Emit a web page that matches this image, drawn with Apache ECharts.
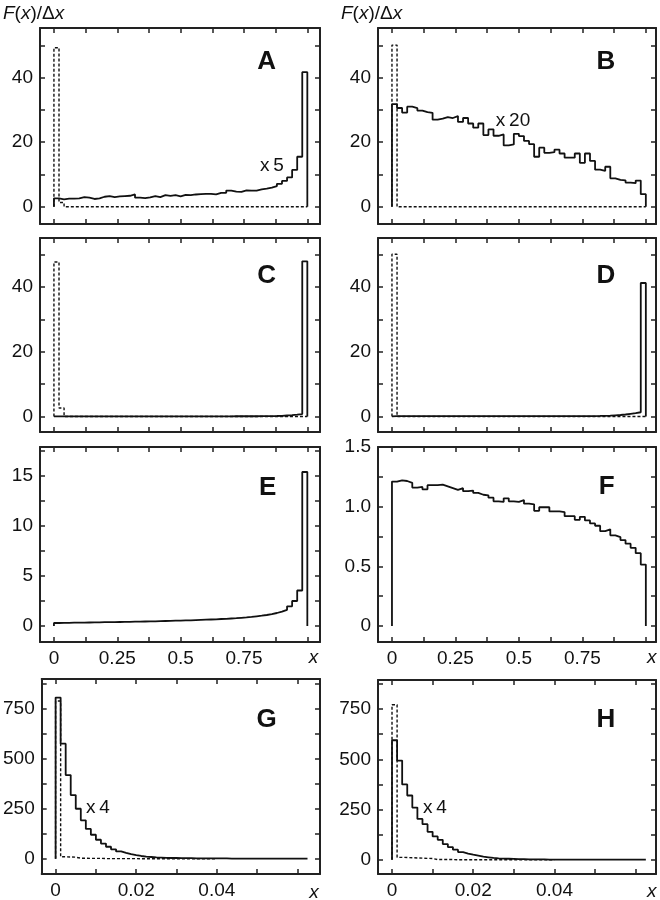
<!DOCTYPE html>
<html><head><meta charset="utf-8">
<script src="https://cdn.jsdelivr.net/npm/echarts@6/dist/echarts.min.js"></script>
<style>html,body{margin:0;padding:0;background:#fff}#c{width:660px;height:900px}</style>
</head><body><div id="c"></div>
<script>
// ---------------- DATA (F(x)/Δx per bin, 50 bins each) ----------------
const binWidthUnit = 0.02;      // panels A-F : x in [0,1]
const binWidthSmall = 0.00125;  // panels G-H : x in [0,0.0625]

const binsA_solid = [2.6,2.3,2.5,2.5,2.6,3.0,2.8,2.4,2.6,3.1, 3.3,3.0,3.2,3.3,3.4,3.8,2.8,2.7,2.9,3.3,
  3.0,3.6,3.4,3.6,3.2,3.7,3.6,3.8,3.9,4.0, 4.0,3.8,4.3,4.3,5.0,4.7,4.6,5.1,5.0,5.0,
  5.4,5.6,5.9,6.4,7.1,8.0,9.1,11.4,15.5,41.7];
const binsA_dotted = [49.3,1.3,0,0,0,0,0,0,0,0, 0,0,0,0,0,0,0,0,0,0, 0,0,0,0,0,0,0,0,0,0,
  0,0,0,0,0,0,0,0,0,0, 0,0,0,0,0,0,0,0,0,0];

const binsB_solid = [31.8,30.6,29.2,31.0,30.6,29.8,29.3,29.1,27.0,27.3, 27.8,27.5,28.1,26.3,27.5,25.8,24.5,25.8,22.2,24.0,
  22.0,22.4,19.0,19.3,22.6,21.9,20.4,19.4,15.5,18.3, 16.7,16.9,17.7,16.5,15.2,15.2,16.5,13.6,16.5,14.2,
  11.5,11.1,12.4,8.8,8.3,8.2,7.5,7.3,8.1,3.9];
const binsB_dotted = [50.1,0,0,0,0,0,0,0,0,0, 0,0,0,0,0,0,0,0,0,0, 0,0,0,0,0,0,0,0,0,0,
  0,0,0,0,0,0,0,0,0,0, 0,0,0,0,0,0,0,0,0,0];

const binsC_solid = [0.05,0.04,0.05,0.04,0.05,0.05,0.04,0.05,0.05,0.05, 0.05,0.05,0.05,0.05,0.05,0.05,0.05,0.05,0.05,0.05,
  0.05,0.05,0.05,0.05,0.05,0.05,0.05,0.05,0.05,0.05, 0.05,0.05,0.05,0.05,0.05,0.06,0.06,0.06,0.07,0.07,
  0.08,0.09,0.11,0.14,0.2,0.3,0.4,0.55,0.75,47.9];
const binsC_dotted = [47.7,2.6,0,0,0,0,0,0,0,0, 0,0,0,0,0,0,0,0,0,0, 0,0,0,0,0,0,0,0,0,0,
  0,0,0,0,0,0,0,0,0,0, 0,0,0,0,0,0,0,0,0,0];

const binsD_solid = [0.1,0.1,0.1,0.1,0.1,0.1,0.1,0.1,0.1,0.1, 0.1,0.1,0.1,0.1,0.1,0.1,0.1,0.1,0.1,0.1,
  0.1,0.1,0.1,0.1,0.1,0.1,0.1,0.1,0.1,0.1, 0.1,0.1,0.1,0.1,0.1,0.1,0.1,0.1,0.1,0.12,
  0.15,0.2,0.25,0.35,0.45,0.6,0.8,1.0,1.3,41.2];
const binsD_dotted = [50.1,0,0,0,0,0,0,0,0,0, 0,0,0,0,0,0,0,0,0,0, 0,0,0,0,0,0,0,0,0,0,
  0,0,0,0,0,0,0,0,0,0, 0,0,0,0,0,0,0,0,0,0];

const binsE_solid = [0.30,0.31,0.32,0.33,0.33,0.34,0.35,0.36,0.37,0.38, 0.38,0.39,0.40,0.41,0.42,0.43,0.44,0.45,0.46,0.47,
  0.49,0.50,0.51,0.53,0.54,0.56,0.57,0.59,0.61,0.63, 0.65,0.67,0.70,0.72,0.75,0.78,0.82,0.86,0.91,0.97,
  1.03,1.10,1.19,1.30,1.44,1.62,1.97,2.50,3.55,15.4];

const binsF_solid = [1.21,1.22,1.215,1.20,1.16,1.165,1.145,1.18,1.18,1.185, 1.17,1.155,1.14,1.155,1.13,1.135,1.115,1.10,1.095,1.075,
  1.045,1.04,1.07,1.045,1.04,1.055,1.025,1.02,0.965,0.995, 0.995,0.96,0.96,0.955,0.92,0.92,0.89,0.915,0.885,0.86,
  0.84,0.795,0.81,0.76,0.745,0.72,0.69,0.655,0.61,0.515];

const binsG_solid = [805,575,418,318,250,192,149,120,95,76, 60,47,37,29,23,18,14,11,9,7,
  6,5,4,4,3,3,3,2,2,2, 2,2,2,2,1,1,1,1,1,1, 1,1,1,1,1,1,1,1,1,1];
const binsG_dotted = [788,10,9,8,3,3,2,2,2,1, 1,1,1,1,1,1,0,0,0,0, 0,0,0,0,0,0,0,0,0,0, 0,0];

const binsH_solid = [595,494,375,320,260,203,177,139,116,99, 78,63,50,38,31,25,20,15,12,9,
  7,6,5,4,3,3,2,2,2,2, 1,1,1,1,1,1,1,1,1,1, 1,1,1,1,1,1,1,1,1,1];
const binsH_dotted = [772,12,11,10,9,8,7,6,1,1, 1,1,0,0,0,0,0,0,0,0, 0,0,0,0,0,0,0,0,0,0, 0,0];

// tick / label values
const xTicksUnit = [0,0.125,0.25,0.375,0.5,0.625,0.75,0.875,1];
const xLabelsUnit = [0,0.25,0.5,0.75];
const xTicksSmall = [0,0.01,0.02,0.03,0.04,0.05,0.06];
const xLabelsSmall = [0,0.02,0.04];
const yTicksAD = [0,10,20,30,40,50];
const yLabelsAD = [0,20,40];
const yTicksE = [0,2.5,5,7.5,10,12.5,15,17.5];
const yLabelsE = [0,5,10,15];
const yTicksF = [0,0.25,0.5,0.75,1,1.25,1.5];
const yLabelsF = [0,0.5,1,1.5];
const yTicksGH = [0,125,250,375,500,625,750,875];
const yLabelsGH = [0,250,500,750];

// ---------------- LAYOUT / STYLE ----------------
const INK = '#111';
const FRAME = '#222';
const FONT = '"Liberation Sans", Arial, Helvetica, sans-serif';
const FS = 19;

const panels = [
  {n:'A', solid:binsA_solid, dotted:binsA_dotted, w:binWidthUnit, box:[40,28,280,196], xr:[-0.055,1.05], yr:[-5.35,55.4], xt:xTicksUnit, xl:null, yt:yTicksAD, yl:yLabelsAD},
  {n:'B', solid:binsB_solid, dotted:binsB_dotted, w:binWidthUnit, box:[378,28,278,196], xr:[-0.055,1.04], yr:[-5.35,55.4], xt:xTicksUnit, xl:null, yt:yTicksAD, yl:yLabelsAD},
  {n:'C', solid:binsC_solid, dotted:binsC_dotted, w:binWidthUnit, box:[40,238,280,194], xr:[-0.055,1.05], yr:[-4.8,55.1], xt:xTicksUnit, xl:null, yt:yTicksAD, yl:yLabelsAD},
  {n:'D', solid:binsD_solid, dotted:binsD_dotted, w:binWidthUnit, box:[378,238,278,194], xr:[-0.055,1.04], yr:[-4.8,55.1], xt:xTicksUnit, xl:null, yt:yTicksAD, yl:yLabelsAD},
  {n:'E', solid:binsE_solid, dotted:null, w:binWidthUnit, box:[40,447,280,195], xr:[-0.055,1.05], yr:[-1.6,17.9], xt:xTicksUnit, xl:xLabelsUnit, yt:yTicksE, yl:yLabelsE},
  {n:'F', solid:binsF_solid, dotted:null, w:binWidthUnit, box:[378,447,278,195], xr:[-0.055,1.04], yr:[-0.134,1.5], xt:xTicksUnit, xl:xLabelsUnit, yt:yTicksF, yl:yLabelsF, yf:v=>v===0?'0':v.toFixed(1)},
  {n:'G', solid:binsG_solid, dotted:binsG_dotted, w:binWidthSmall, box:[40,679,280,197], xr:[-0.00345,0.0656], yr:[-76,898], xt:xTicksSmall, xl:xLabelsSmall, yt:yTicksGH, yl:yLabelsGH},
  {n:'H', solid:binsH_solid, dotted:binsH_dotted, w:binWidthSmall, box:[378,680,278,195], xr:[-0.00345,0.065], yr:[-71,895], xt:xTicksSmall, xl:xLabelsSmall, yt:yTicksGH, yl:yLabelsGH}
];

function steps(vals, w){
  const pts = [[0,0]];
  vals.forEach((v,i)=>pts.push([i*w, v]));
  pts.push([vals.length*w, 0]);
  return pts;
}

const grids=[], xAxes=[], yAxes=[], series=[];
panels.forEach((p,i)=>{
  grids.push({left:p.box[0], top:p.box[1], width:p.box[2], height:p.box[3], show:false});
  const axLine = {show:true, onZero:false, lineStyle:{color:FRAME, width:2}};
  const tick = vals => ({show:true, inside:true, length:5, customValues:vals, lineStyle:{color:FRAME, width:1.5}});
  const lbl = {fontSize:FS, fontFamily:FONT, color:INK};
  xAxes.push({type:'value', gridIndex:i, position:'bottom', min:p.xr[0], max:p.xr[1], axisLine:axLine, axisTick:tick(p.xt), splitLine:{show:false},
    axisLabel: p.xl ? Object.assign({show:true, customValues:p.xl, margin:7, formatter:v=>String(v)}, lbl) : {show:false}});
  xAxes.push({type:'value', gridIndex:i, position:'top', min:p.xr[0], max:p.xr[1], axisLine:axLine, axisTick:tick(p.xt), splitLine:{show:false}, axisLabel:{show:false}});
  yAxes.push({type:'value', gridIndex:i, position:'left', min:p.yr[0], max:p.yr[1], axisLine:axLine, axisTick:tick(p.yt), splitLine:{show:false},
    axisLabel: Object.assign({show:true, customValues:p.yl, margin:7, formatter: p.yf || (v=>String(v))}, lbl)});
  yAxes.push({type:'value', gridIndex:i, position:'right', min:p.yr[0], max:p.yr[1], axisLine:axLine, axisTick:tick(p.yt), splitLine:{show:false}, axisLabel:{show:false}});
  if (p.dotted) series.push({type:'line', xAxisIndex:2*i, yAxisIndex:2*i, step:'end', symbol:'none', silent:true,
    data:steps(p.dotted, p.w), lineStyle:{color:INK, width:1.4, type:[3,2]}});
  series.push({type:'line', xAxisIndex:2*i, yAxisIndex:2*i, step:'end', symbol:'none', silent:true,
    data:steps(p.solid, p.w), lineStyle:{color:INK, width:1.8}});
});

function txt(x, y, text, opt){
  return {type:'text', x:x, y:y, silent:true, style:Object.assign({text:text, fill:INK, fontFamily:FONT, fontSize:FS, align:'center', verticalAlign:'middle'}, opt||{})};
}
const richTitle = {i:{fontStyle:'italic', fontSize:FS, fontFamily:FONT, fill:INK}, n:{fontSize:FS, fontFamily:FONT, fill:INK}};
const graphics = [
  txt(3, 14, '{i|F}{n|(}{i|x}{n|)/Δ}{i|x}', {align:'left', rich:richTitle}),
  txt(341, 14, '{i|F}{n|(}{i|x}{n|)/Δ}{i|x}', {align:'left', rich:richTitle}),
  txt(266.7, 61.7, 'A', {fontWeight:'bold', fontSize:26}),
  txt(606, 61.7, 'B', {fontWeight:'bold', fontSize:26}),
  txt(266.7, 276, 'C', {fontWeight:'bold', fontSize:26}),
  txt(606, 276, 'D', {fontWeight:'bold', fontSize:26}),
  txt(267.7, 487.7, 'E', {fontWeight:'bold', fontSize:26}),
  txt(606.7, 486.7, 'F', {fontWeight:'bold', fontSize:26}),
  txt(266.7, 720, 'G', {fontWeight:'bold', fontSize:26}),
  txt(606, 720, 'H', {fontWeight:'bold', fontSize:26}),
  txt(272, 166, 'x\u20095'),
  txt(513, 121, 'x\u200920'),
  txt(98, 808, 'x\u20094'),
  txt(435, 808, 'x\u20094'),
  txt(313.5, 658, 'x', {fontStyle:'italic'}),
  txt(651.7, 658, 'x', {fontStyle:'italic'}),
  txt(314, 892.5, 'x', {fontStyle:'italic'}),
  txt(651.7, 892, 'x', {fontStyle:'italic'})
];

const chart = echarts.init(document.getElementById('c'), null, {renderer:'canvas', width:660, height:900});
chart.setOption({
  animation:false,
  backgroundColor:'#fff',
  grid:grids, xAxis:xAxes, yAxis:yAxes, series:series, graphic:graphics
});
</script>
</body></html>
